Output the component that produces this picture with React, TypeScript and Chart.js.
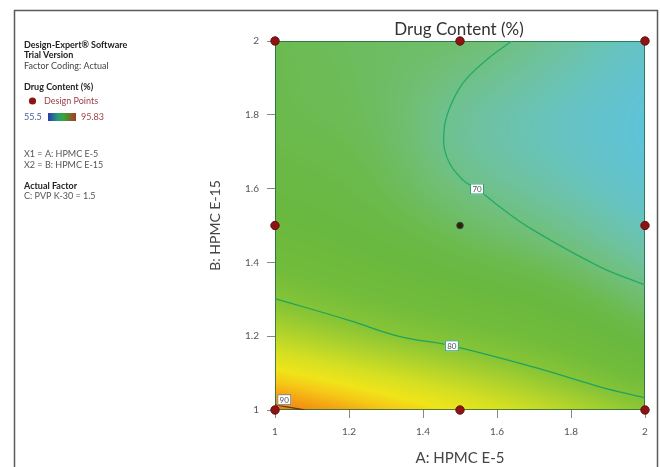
import React, { useEffect, useRef } from "react";
import { Chart, registerables } from "chart.js";

Chart.register(...registerables);

// Surface grid levels (A: HPMC E-5 across, B: HPMC E-15 up)
const gridA = [1, 1.25, 1.5, 1.75, 2];
const gridB = [1, 1.25, 1.5, 1.75, 2];
// Drug content (%) read at each grid node, one row per B level
const contentAtB100 = [90.5, 88.3, 86.0, 83.5, 80.8];
const contentAtB125 = [81.5, 79.6, 77.8, 75.8, 72.3];
const contentAtB150 = [75.8, 74.2, 71.8, 69.6, 66.8];
const contentAtB175 = [73.2, 72.2, 69.0, 66.8, 64.3];
const contentAtB200 = [72.8, 71.8, 71.0, 68.8, 66.0];

// Contour lines
const contour70A = [1.64, 1.572, 1.508, 1.473, 1.457, 1.464, 1.508, 1.546, 1.608, 1.697, 1.878, 2.0];
const contour70B = [2.0, 1.949, 1.886, 1.821, 1.759, 1.686, 1.623, 1.599, 1.55, 1.488, 1.388, 1.339];
const contour80A = [1.0, 1.2, 1.338, 1.478, 1.7, 1.878, 2.0];
const contour80B = [1.302, 1.243, 1.199, 1.174, 1.116, 1.063, 1.033];
const contour90A = [1.0, 1.04, 1.08];
const contour90B = [1.014, 1.007, 1.0];

// Contour labels
const labelLevels = ["70", "80", "90"];
const labelA = [1.546, 1.478, 1.025];
const labelB = [1.599, 1.174, 1.028];

// Design points
const designA = [1, 1.5, 2, 1, 1.5, 2, 1, 1.5, 2];
const designB = [1, 1, 1, 1.5, 1.5, 1.5, 2, 2, 2];

// Axis ticks
const tickValues = [1, 1.2, 1.4, 1.6, 1.8, 2];
const tickLabels = ["1", "1.2", "1.4", "1.6", "1.8", "2"];

// Colour scale
const colorStopValues = [60, 64, 66.5, 68.5, 70.5, 73, 75, 78, 80.5, 82.5, 84.5, 86.3, 87.6, 88.8, 90.2, 95.83];
const colorStopHex = [
  "#50b8e8", "#5ec3dc", "#66c3c2", "#6ec2a0", "#70bf78", "#6bba4c", "#69b83f", "#72bc3b",
  "#88c536", "#aed22c", "#d4df22", "#efe41a", "#f6c817", "#f4a614", "#ef8412", "#d85010",
];

const surfaceRows = [contentAtB100, contentAtB125, contentAtB150, contentAtB175, contentAtB200];

function hexToRgb(h: string) {
  const n = parseInt(h.slice(1), 16);
  return [(n >> 16) & 255, (n >> 8) & 255, n & 255];
}
const stopRgb = colorStopHex.map(hexToRgb);

function colorFor(v: number) {
  const sv = colorStopValues;
  if (v <= sv[0]) return stopRgb[0];
  if (v >= sv[sv.length - 1]) return stopRgb[sv.length - 1];
  for (let i = 0; i < sv.length - 1; i++) {
    if (v >= sv[i] && v <= sv[i + 1]) {
      const t = (v - sv[i]) / (sv[i + 1] - sv[i]);
      const a = stopRgb[i], b = stopRgb[i + 1];
      return [a[0] + (b[0] - a[0]) * t, a[1] + (b[1] - a[1]) * t, a[2] + (b[2] - a[2]) * t];
    }
  }
  return stopRgb[0];
}

function cr(p0: number, p1: number, p2: number, p3: number, t: number) {
  return 0.5 * (2 * p1 + (-p0 + p2) * t + (2 * p0 - 5 * p1 + 4 * p2 - p3) * t * t + (-p0 + 3 * p1 - 3 * p2 + p3) * t * t * t);
}
function sample(arr: number[], i: number) {
  const n = arr.length;
  if (i < 0) return 2 * arr[0] - arr[1];
  if (i >= n) return 2 * arr[n - 1] - arr[n - 2];
  return arr[i];
}
function interp(levels: number[], vals: number[], x: number) {
  const step = levels[1] - levels[0];
  const f = (x - levels[0]) / step;
  let i = Math.floor(f);
  if (i > vals.length - 2) i = vals.length - 2;
  if (i < 0) i = 0;
  const t = f - i;
  return cr(sample(vals, i - 1), sample(vals, i), sample(vals, i + 1), sample(vals, i + 2), t);
}
function surface(a: number, b: number) {
  const col = surfaceRows.map((r) => interp(gridA, r, a));
  return interp(gridB, col, b);
}

const FONT = "Lato, 'Open Sans', sans-serif";

const surfacePlugin = {
  id: "surface",
  beforeDraw(chart: any) {
    const { ctx } = chart;
    ctx.save();
    ctx.fillStyle = "#ffffff";
    ctx.fillRect(0, 0, chart.width, chart.height);
    // outer frame
    ctx.strokeStyle = "#5a5a5a";
    ctx.lineWidth = 1.5;
    ctx.beginPath();
    ctx.moveTo(14.5, 467);
    ctx.lineTo(14.5, 10.5);
    ctx.lineTo(657.5, 10.5);
    ctx.lineTo(657.5, 467);
    ctx.stroke();

    // side panel text
    ctx.textBaseline = "middle";
    ctx.textAlign = "left";
    const line = (txt: string, x: number, y: number, color: string, bold: boolean) => {
      ctx.font = (bold ? "bold " : "") + "9px " + FONT;
      ctx.fillStyle = color;
      ctx.fillText(txt, x, y);
    };
    line("Design-Expert\u00AE Software", 24, 45, "#222", true);
    line("Trial Version", 24, 55, "#222", true);
    line("Factor Coding: Actual", 24, 66, "#444", false);
    line("Drug Content (%)", 24, 87, "#222", true);
    ctx.fillStyle = "#8c1414";
    ctx.beginPath();
    ctx.arc(32.5, 101, 3.6, 0, Math.PI * 2);
    ctx.fill();
    line("Design Points", 44, 101, "#9a3c46", false);
    line("55.5", 24, 117, "#4a5a9a", false);
    const g = ctx.createLinearGradient(48, 0, 76, 0);
    g.addColorStop(0, "#2a38b0");
    g.addColorStop(0.35, "#2a9a7a");
    g.addColorStop(0.55, "#34a838");
    g.addColorStop(1, "#a83a22");
    ctx.fillStyle = g;
    ctx.fillRect(48, 113, 28, 8);
    line("95.83", 81, 117, "#a04048", false);
    line("X1 = A: HPMC E-5", 24, 154, "#555", false);
    line("X2 = B: HPMC E-15", 24, 165, "#555", false);
    line("Actual Factor", 24, 186, "#222", true);
    line("C: PVP K-30 = 1.5", 24, 196, "#555", false);

    // chart title
    ctx.font = "17px " + FONT;
    ctx.fillStyle = "#333";
    ctx.textAlign = "center";
    ctx.fillText("Drug Content (%)", 459, 30);
    ctx.restore();
  },
  beforeDatasetsDraw(chart: any) {
    const { ctx, chartArea: ca, scales } = chart;
    const w = Math.round(ca.right - ca.left);
    const h = Math.round(ca.bottom - ca.top);
    const off = document.createElement("canvas");
    off.width = w;
    off.height = h;
    const octx = off.getContext("2d")!;
    const img = octx.createImageData(w, h);
    for (let j = 0; j < h; j++) {
      const b = scales.y.getValueForPixel(ca.top + j + 0.5);
      for (let i = 0; i < w; i++) {
        const a = scales.x.getValueForPixel(ca.left + i + 0.5);
        const c = colorFor(surface(a, b));
        const k = (j * w + i) * 4;
        img.data[k] = c[0];
        img.data[k + 1] = c[1];
        img.data[k + 2] = c[2];
        img.data[k + 3] = 255;
      }
    }
    octx.putImageData(img, 0, 0);
    ctx.save();
    ctx.drawImage(off, ca.left, ca.top);
    ctx.strokeStyle = "rgba(20,100,60,0.75)";
    ctx.lineWidth = 1;
    ctx.strokeRect(ca.left + 0.5, ca.top + 0.5, w - 1, h - 1);
    ctx.restore();
  },
  afterDatasetsDraw(chart: any) {
    const { ctx, scales } = chart;
    ctx.save();
    ctx.font = "8px " + FONT;
    ctx.textAlign = "center";
    ctx.textBaseline = "middle";
    labelLevels.forEach((lv, i) => {
      const px = scales.x.getPixelForValue(labelA[i]);
      const py = scales.y.getPixelForValue(labelB[i]);
      ctx.fillStyle = "#ffffff";
      ctx.fillRect(px - 7, py - 5.5, 14, 11);
      ctx.strokeStyle = i === 2 ? "#8a7a60" : "#2aa56a";
      ctx.lineWidth = 1;
      ctx.strokeRect(px - 7 + 0.5, py - 5.5 + 0.5, 13, 10);
      ctx.fillStyle = "#555";
      ctx.fillText(lv, px, py + 0.5);
    });
    ctx.restore();
  },
};

function pts(xs: number[], ys: number[]) {
  return xs.map((x, i) => ({ x, y: ys[i] }));
}

export default function App() {
  const ref = useRef<HTMLCanvasElement | null>(null);
  useEffect(() => {
    if (!ref.current) return;
    const tickFont = { family: FONT, size: 10 };
    const chart = new Chart(ref.current, {
      type: "scatter",
      data: {
        datasets: [
          {
            type: "line",
            data: pts(contour70A, contour70B),
            borderColor: "#22aa68",
            borderWidth: 1.3,
            pointRadius: 0,
            tension: 0.4,
            fill: false,
          },
          {
            type: "line",
            data: pts(contour80A, contour80B),
            borderColor: "#1ea260",
            borderWidth: 1.3,
            pointRadius: 0,
            tension: 0.4,
            fill: false,
          },
          {
            type: "line",
            data: pts(contour90A, contour90B),
            borderColor: "#6a3418",
            borderWidth: 1.3,
            pointRadius: 0,
            tension: 0.4,
            fill: false,
          },
          {
            type: "scatter",
            data: pts(designA, designB),
            clip: false,
            pointRadius: designA.map((_, i) => (i === 4 ? 3.3 : 4.2)),
            pointBackgroundColor: designA.map((_, i) => (i === 4 ? "#3a1a10" : "#8c1414")),
            pointBorderColor: designA.map((_, i) => (i === 4 ? "#1e5a30" : "#6a0c0c")),
            pointBorderWidth: 1,
          },
        ] as any,
      },
      options: {
        responsive: false,
        devicePixelRatio: 1,
        animation: false,
        layout: { padding: { left: 0, right: 15, top: 41, bottom: 0 } },
        plugins: { legend: { display: false }, title: { display: false }, tooltip: { enabled: false } },
        scales: {
          x: {
            type: "linear",
            min: 1,
            max: 2,
            afterBuildTicks: (s: any) => {
              s.ticks = tickValues.map((v) => ({ value: v }));
            },
            afterFit: (s: any) => {
              s.height = 57;
            },
            ticks: {
              callback: (_v: any, i: number) => tickLabels[i],
              font: tickFont,
              color: "#555",
              padding: 8,
              maxRotation: 0,
            },
            grid: { drawOnChartArea: false, drawTicks: true, tickLength: 8, color: "#888" },
            border: { display: false },
            title: {
              display: true,
              text: "A: HPMC E-5",
              font: { family: FONT, size: 15 },
              color: "#444",
              padding: { top: 0, bottom: 0 },
            },
          },
          y: {
            type: "linear",
            min: 1,
            max: 2,
            afterBuildTicks: (s: any) => {
              s.ticks = tickValues.map((v) => ({ value: v }));
            },
            afterFit: (s: any) => {
              s.width = 275;
            },
            ticks: {
              callback: (_v: any, i: number) => tickLabels[i],
              font: tickFont,
              color: "#555",
              padding: 8,
            },
            grid: { drawOnChartArea: false, drawTicks: true, tickLength: 8, color: "#888" },
            border: { display: false },
            title: {
              display: true,
              text: "B: HPMC E-15",
              font: { family: FONT, size: 14 },
              color: "#444",
              padding: { top: 207, bottom: 0 },
            },
          },
        },
      } as any,
      plugins: [surfacePlugin],
    });
    return () => chart.destroy();
  }, []);
  return (
    <div style={{ position: "absolute", left: 0, top: 0, width: 660, height: 467 }}>
      <canvas ref={ref} width={660} height={467} />
    </div>
  );
}
